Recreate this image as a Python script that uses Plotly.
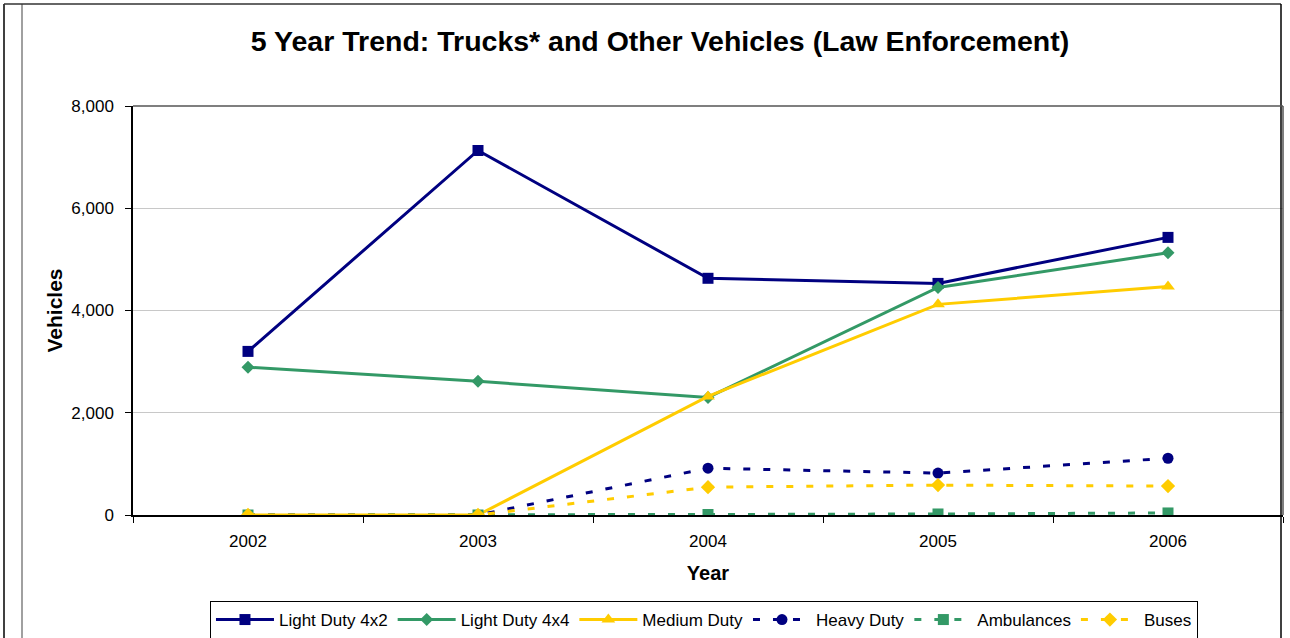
import plotly.graph_objects as go

years = ["2002", "2003", "2004", "2005", "2006"]
light_4x2 = [3200, 7130, 4630, 4530, 5430]
light_4x4 = [2890, 2615, 2300, 4450, 5130]
medium_duty = [0, 0, 2320, 4120, 4470]
heavy_duty = [0, 0, 915, 820, 1110]
ambulances = [0, 0, 10, 20, 40]
buses = [0, 0, 545, 585, 565]
y_ticks = [0, 2000, 4000, 6000, 8000]
y_tick_labels = ["0", "2,000", "4,000", "6,000", "8,000"]

NAVY = "#000080"
GREEN = "#339966"
YELLOW = "#FFCC00"
DASH = "7px,13px"

series = [
    ("Light Duty 4x2", light_4x2, NAVY, "solid", "square", 11),
    ("Light Duty 4x4", light_4x4, GREEN, "solid", "diamond", 10),
    ("Medium Duty", medium_duty, YELLOW, "solid", "triangle-up", 12),
    ("Heavy Duty", heavy_duty, NAVY, DASH, "circle", 11),
    ("Ambulances", ambulances, GREEN, DASH, "square", 11),
    ("Buses", buses, YELLOW, DASH, "diamond", 11),
]

fig = go.Figure()
for name, vals, col, dash, sym, size in series:
    fig.add_trace(go.Scatter(
        x=years, y=vals, name=name, mode="lines+markers",
        line=dict(color=col, width=3, dash=dash),
        marker=dict(symbol=sym, size=size, color=col),
    ))

W, H = 1290, 638
L, R, T, B = 133, 1283, 106, 515


def px(x):
    return (x - L) / (R - L)


def py(y):
    return (B - y) / (B - T)


shapes = [
    # outer chart frame
    dict(type="line", xref="paper", yref="paper", x0=px(4), x1=px(4), y0=py(4), y1=py(660), line=dict(color="#000000", width=1.5)),
    dict(type="line", xref="paper", yref="paper", x0=px(22), x1=px(22), y0=py(4), y1=py(660), line=dict(color="#808080", width=1.5)),
    dict(type="line", xref="paper", yref="paper", x0=px(4), x1=px(1281), y0=py(4), y1=py(4), line=dict(color="#333333", width=1.5)),
    dict(type="line", xref="paper", yref="paper", x0=px(1281), x1=px(1281), y0=py(4), y1=py(660), line=dict(color="#000000", width=1.5)),
    # plot area border top/right
    dict(type="line", xref="paper", yref="paper", x0=0, x1=1, y0=1, y1=1, line=dict(color="#555555", width=1.5)),
    dict(type="line", xref="paper", yref="paper", x0=1, x1=1, y0=0, y1=1, line=dict(color="#555555", width=1.5)),
]

fig.update_layout(
    width=W, height=H,
    margin=dict(l=L, r=W - R, t=T, b=H - B, autoexpand=False),
    paper_bgcolor="white", plot_bgcolor="white",
    font=dict(family="Liberation Sans, Arial, sans-serif", color="#000000"),
    title=dict(text="<b>5 Year Trend: Trucks* and Other Vehicles (Law Enforcement)</b>",
               x=660 / W, xanchor="center", y=1 - 41 / H, yanchor="middle",
               font=dict(size=28.5, color="#000000")),
    showlegend=True,
    legend=dict(orientation="h", x=0.4965, xanchor="center", y=py(601), yanchor="top",
                bordercolor="#000000", borderwidth=1, bgcolor="white",
                font=dict(size=17), tracegroupgap=0, itemwidth=58),
    shapes=shapes,
)

fig.update_xaxes(
    type="category", range=[-0.5, 4.5], automargin=False,
    showline=True, linecolor="#000000", linewidth=1.5,
    ticks="outside", tickson="boundaries", ticklen=6, tickcolor="#000000",
    showgrid=False, tickfont=dict(size=17),
    ticklabelstandoff=10,
    title=dict(text="<b>Year</b>", font=dict(size=20), standoff=16),
)
fig.update_yaxes(
    range=[0, 8000], tickvals=y_ticks, ticktext=y_tick_labels, automargin=False,
    showline=True, linecolor="#000000", linewidth=1.5,
    ticks="outside", ticklen=6, tickcolor="#000000",
    showgrid=True, gridcolor="#C8C8C8", gridwidth=1,
    zeroline=False, tickfont=dict(size=17),
    ticklabelstandoff=8,
    title=dict(text="<b>Vehicles</b>", font=dict(size=21), standoff=3),
)

fig.write_html("out.html", config={"displayModeBar": False},
               post_script="document.body.style.margin='0px';")
